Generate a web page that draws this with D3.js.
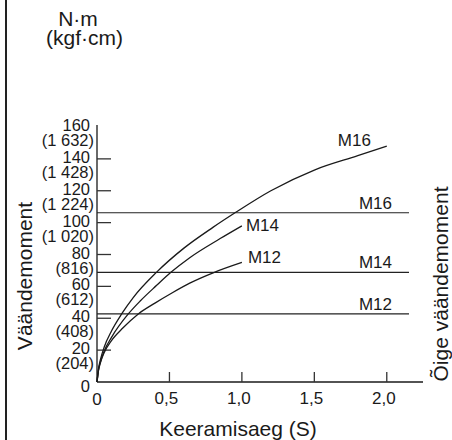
<!DOCTYPE html>
<html><head><meta charset="utf-8">
<script src="https://cdn.jsdelivr.net/npm/d3@7"></script>
<style>
html,body{margin:0;padding:0;background:#fff;}
svg{display:block;font-family:"Liberation Sans",Arial,sans-serif;}
</style></head>
<body>
<svg id="c" width="452" height="440"></svg>
<script>
// ---- data ----
const yTicks = [0, 20, 40, 60, 80, 100, 120, 140, 160];
const yTickLabels = ["0", "20", "40", "60", "80", "100", "120", "140", "160"];
const yKgfLabels = ["", "(204)", "(408)", "(612)", "(816)", "(1 020)", "(1 224)", "(1 428)", "(1 632)"];
const xTicks = [0, 0.5, 1.0, 1.5, 2.0];
const xTickLabels = ["0", "0,5", "1,0", "1,5", "2,0"];
const seriesNames = ["M16", "M14", "M12"];
const m16Time = [0, 0.01, 0.025, 0.05, 0.1, 0.17, 0.25, 0.41, 0.6, 0.8, 0.95, 1.2, 1.5, 1.8, 2.0];
const m16Torque = [0, 8, 14.5, 22, 32, 42.7, 53, 68.8, 84, 97, 106, 120, 133, 142, 148];
const m14Time = [0, 0.01, 0.025, 0.05, 0.1, 0.216, 0.3, 0.41, 0.51, 0.64, 0.85, 1.0];
const m14Torque = [0, 7.5, 13, 19.5, 28, 42.7, 51, 60.5, 68.8, 78, 90, 98];
const m12Time = [0, 0.01, 0.025, 0.05, 0.1, 0.18, 0.285, 0.4, 0.52, 0.64, 0.81, 1.0];
const m12Torque = [0, 7, 12.5, 18.5, 26, 34, 42.7, 49.5, 56, 62, 68.8, 75];
const properTorque = [106.2, 68.8, 42.7]; // M16, M14, M12

// ---- chart ----
const svg = d3.select("#c");
const x = d3.scaleLinear().domain([0, 2.25]).range([97, 423]);
const y = d3.scaleLinear().domain([0, 160]).range([382, 127]);
const ink = "#1a1a1a";

// left frame line
svg.append("line").attr("x1", 6).attr("x2", 6).attr("y1", 0).attr("y2", 440)
  .attr("stroke", "#222").attr("stroke-width", 2);

// axes lines
svg.append("line").attr("x1", x(0)).attr("x2", x(0)).attr("y1", y(0)).attr("y2", 125)
  .attr("stroke", ink).attr("stroke-width", 1.3);
svg.append("line").attr("x1", x(0)).attr("x2", x(2.25)).attr("y1", y(0)).attr("y2", y(0))
  .attr("stroke", ink).attr("stroke-width", 1.3);

// y ticks (inward)
svg.selectAll(".yt").data(yTicks.filter(v => v > 0 && v < 160)).enter().append("line")
  .attr("x1", x(0)).attr("x2", x(0) + 14).attr("y1", d => y(d)).attr("y2", d => y(d))
  .attr("stroke", "#333").attr("stroke-width", 1.3);
// y labels
svg.selectAll(".yl").data(yTicks).enter().append("text")
  .attr("x", 90).attr("y", (d, i) => y(d) + (d === 0 ? 10 : 4))
  .attr("text-anchor", "end").attr("font-size", 16.5).attr("fill", ink)
  .text((d, i) => yTickLabels[i]);
svg.selectAll(".yk").data(yTicks).enter().append("text")
  .attr("x", 94).attr("y", d => y(d) + 19)
  .attr("text-anchor", "end").attr("font-size", 16.5).attr("fill", ink)
  .text((d, i) => yKgfLabels[i]);

// x ticks (inward)
svg.selectAll(".xt").data(xTicks.filter(v => v > 0)).enter().append("line")
  .attr("x1", d => x(d)).attr("x2", d => x(d)).attr("y1", y(0)).attr("y2", y(0) - 10)
  .attr("stroke", "#333").attr("stroke-width", 1.3);
svg.selectAll(".xl").data(xTicks).enter().append("text")
  .attr("x", d => x(d) - (d === 0 ? 0 : 3)).attr("y", (d) => d === 0 ? 405 : 404)
  .attr("text-anchor", "middle").attr("font-size", 17).attr("fill", ink)
  .text((d, i) => xTickLabels[i]);

// proper torque horizontal lines
svg.selectAll(".pl").data(properTorque).enter().append("line")
  .attr("x1", x(0)).attr("x2", 409).attr("y1", d => y(d)).attr("y2", d => y(d))
  .attr("stroke", "#222").attr("stroke-width", 1.2);
svg.selectAll(".plt").data(properTorque).enter().append("text")
  .attr("x", 392).attr("y", d => y(d) - 4)
  .attr("text-anchor", "end").attr("font-size", 17).attr("fill", ink)
  .text((d, i) => seriesNames[i]);

// curves
const line = d3.line().x(d => x(d[0])).y(d => y(d[1])).curve(d3.curveMonotoneX);
const curves = [
  d3.zip(m16Time, m16Torque),
  d3.zip(m14Time, m14Torque),
  d3.zip(m12Time, m12Torque)
];
svg.selectAll(".cv").data(curves).enter().append("path")
  .attr("d", line).attr("fill", "none").attr("stroke", ink).attr("stroke-width", 1.3);

// curve end labels
const last = a => a[a.length - 1];
svg.append("text").attr("x", x(last(m16Time)) - 49).attr("y", y(last(m16Torque)))
  .attr("font-size", 17).attr("fill", ink).text(seriesNames[0]);
svg.append("text").attr("x", x(last(m14Time)) + 4).attr("y", y(last(m14Torque)) + 5)
  .attr("font-size", 17).attr("fill", ink).text(seriesNames[1]);
svg.append("text").attr("x", x(last(m12Time)) + 6).attr("y", y(last(m12Torque)) + 1)
  .attr("font-size", 17).attr("fill", ink).text(seriesNames[2]);

// titles
svg.append("text").attr("x", 78).attr("y", 26).attr("text-anchor", "middle")
  .attr("font-size", 21).attr("fill", ink).text("N·m");
svg.append("text").attr("x", 84.5).attr("y", 45).attr("text-anchor", "middle")
  .attr("font-size", 21).attr("fill", ink).text("(kgf·cm)");
svg.append("text").attr("x", 238).attr("y", 436).attr("text-anchor", "middle")
  .attr("font-size", 21).attr("fill", ink).text("Keeramisaeg (S)");
svg.append("text").attr("transform", "translate(32,276) rotate(-90)").attr("text-anchor", "middle")
  .attr("font-size", 21).attr("fill", ink).text("Väändemoment");
svg.append("text").attr("transform", "translate(448,284) rotate(-90)").attr("text-anchor", "middle")
  .attr("font-size", 21).attr("fill", ink).text("Õige väändemoment");
</script>
</body></html>
